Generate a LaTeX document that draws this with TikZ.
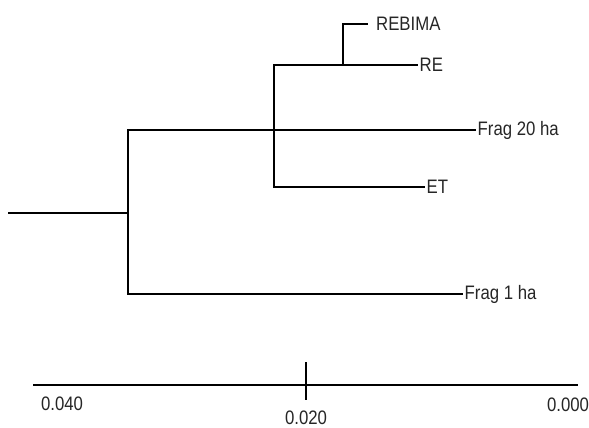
\documentclass[tikz,border=0pt]{standalone}
\usepackage{fontspec}
\setmainfont{Liberation Sans}[FakeStretch=0.86]

\begin{document}
\begin{tikzpicture}
        [x=1pt, y=-1pt, branch/.style={line width=2.4pt, black, line join=miter},
        leaf/.style={anchor=west, inner xsep=1.5pt, inner ysep=0pt, text=black!85, font=\fontsize{19.5}{19.5}\selectfont},
        scalelabel/.style={inner sep=0pt, text=black!85, font=\fontsize{19.5}{19.5}\selectfont}]

        \useasboundingbox (0,0) rectangle (589,428);

        % tree
        \coordinate (root) at (8,213);
        \coordinate (n1) at (128,213);
        \coordinate (n2) at (274,126);
        \coordinate (n3) at (343,45);

        \node[leaf, inner xsep=8pt] (rebima) at (368,24) {REBIMA};
        \node[leaf] (re) at (418,65) {RE};
        \node[leaf] (frag20) at (476,130) {Frag 20 ha};
        \node[leaf] (et) at (425,187) {ET};
        \node[leaf] (frag1) at (463,294) {Frag 1 ha};

        \draw[branch] (root) -- (n1);
        \draw[branch] (n1) |- (frag20.west);
        \draw[branch] (n1) |- (frag1.west);
        \draw[branch] (n2) |- (re.west);
        \draw[branch] (n2) |- (et.west);
        \draw[branch] (n3) |- (rebima.west);
        \draw[branch] (n3) -- (n3 |- re.west);

        % scale bar
        \coordinate (sl) at (33,385);
        \coordinate (sr) at (578,385);
        \coordinate (tt) at (306,362);
        \coordinate (tb) at (306,400);
        \draw[branch] (sl) -- (sr);
        \draw[branch] (tt) -- (tb);

        \node[scalelabel] (s40) at (62,404) {0.040};
        \node[scalelabel] (s20) at (306,418) {0.020};
        \node[scalelabel] (s00) at (568,405) {0.000};

    \end{tikzpicture}
\end{document}
